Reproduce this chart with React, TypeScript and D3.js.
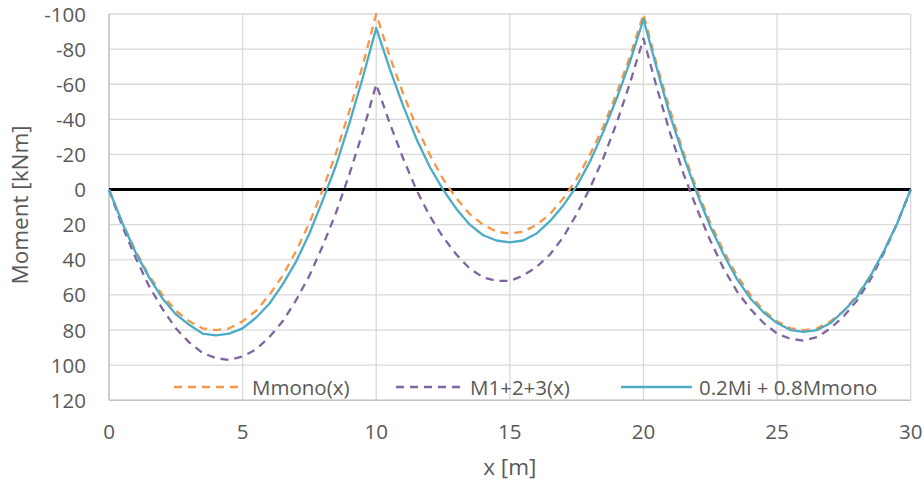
import * as d3 from 'd3'

// x positions along the beam [m]
const xValues = [
  0, 0.5, 1, 1.5, 2, 2.5, 3, 3.5, 4, 4.5, 5, 5.5, 6, 6.5, 7, 7.5, 8, 8.5, 9, 9.5,
  10, 10.5, 11, 11.5, 12, 12.5, 13, 13.5, 14, 14.5, 15, 15.5, 16, 16.5, 17, 17.5, 18, 18.5, 19, 19.5,
  20, 20.5, 21, 21.5, 22, 22.5, 23, 23.5, 24, 24.5, 25, 25.5, 26, 26.5, 27, 27.5, 28, 28.5, 29, 29.5, 30,
]

// Mmono(x)
const mMono = [
  0, 19, 35, 49, 60, 69, 75, 79, 80, 79, 75, 69, 60, 49, 35, 19, 0, -21, -45, -71,
  -100, -76, -55, -36, -20, -6, 5, 14, 20, 24, 25, 24, 20, 14, 5, -6, -20, -36, -55, -76,
  -100, -71, -45, -21, 0, 19, 35, 49, 60, 69, 75, 79, 80, 79, 75, 69, 60, 49, 35, 19, 0,
]

// M1+2+3(x)
const m123 = [
  0, 21, 39, 55, 68, 79, 87, 93, 96, 97, 95, 91, 84, 75, 63, 49, 32, 13, -9, -33,
  -60, -38, -18, 0, 15, 27, 37, 45, 50, 52, 52, 49, 44, 37, 27, 14, -1, -18, -38, -61,
  -86, -58, -32, -9, 11, 29, 45, 58, 68, 76, 82, 85, 86, 84, 79, 72, 63, 51, 36, 19, 0,
]

// 0.2Mi + 0.8Mmono
const mComb = [
  0, 19, 36, 50, 62, 71, 77, 82, 83, 82, 79, 73, 65, 54, 41, 25, 6, -14, -38, -64,
  -92, -69, -48, -29, -13, 0, 11, 20, 26, 29, 30, 29, 25, 18, 9, -2, -16, -33, -52, -73,
  -97, -69, -42, -19, 2, 21, 37, 51, 62, 70, 76, 80, 81, 80, 76, 69, 61, 49, 35, 19, 0,
]

const seriesNames = ['Mmono(x)', 'M1+2+3(x)', '0.2Mi + 0.8Mmono']
const seriesColors = ['#F79646', '#8064A2', '#4BACC6']
const seriesDash = ['8,6', '8,6', null]

const xTicks = [0, 5, 10, 15, 20, 25, 30]
const yTicks = [-100, -80, -60, -40, -20, 0, 20, 40, 60, 80, 100, 120]

const W = 924
const H = 488
const plot = { left: 109, right: 910.7, top: 14, bottom: 400.3 }
const font = '"Open Sans", "Noto Sans", sans-serif'

export default function App() {
  const x = d3.scaleLinear().domain([0, 30]).range([plot.left, plot.right])
  const y = d3.scaleLinear().domain([-100, 120]).range([plot.top, plot.bottom])

  const line = d3.line<number>()
    .x((_, i) => x(xValues[i]))
    .y(d => y(d))

  const series = [mMono, m123, mComb]

  // legend layout (pixel slots)
  const legendY = 387
  const legendItems = [
    { x1: 174, x2: 238, tx: 252 },
    { x1: 396, x2: 462, tx: 470 },
    { x1: 621, x2: 692, tx: 699 },
  ]

  return (
    <svg width={W} height={H} style={{ position: 'absolute', left: 0, top: 0, background: '#fff' }}>
      {/* horizontal gridlines */}
      {yTicks.map(t => (
        <line key={'gy' + t} x1={plot.left} x2={plot.right} y1={y(t)} y2={y(t)}
          stroke="#d9d9d9" strokeWidth={1.3} />
      ))}
      {/* vertical gridlines */}
      {xTicks.map(t => (
        <line key={'gx' + t} x1={x(t)} x2={x(t)} y1={plot.top} y2={plot.bottom}
          stroke="#d9d9d9" strokeWidth={1.3} />
      ))}
      {/* axis lines */}
      <line x1={plot.left} x2={plot.left} y1={plot.top} y2={plot.bottom} stroke="#c4c4c4" strokeWidth={1.5} />
      <line x1={plot.left} x2={plot.right} y1={plot.bottom} y2={plot.bottom} stroke="#c4c4c4" strokeWidth={1.5} />

      {/* zero line */}
      <line x1={x(0)} x2={x(30)} y1={y(0)} y2={y(0)} stroke="#000" strokeWidth={3} />

      {/* series */}
      {series.map((s, i) => (
        <path key={'s' + i} d={line(s) || ''} fill="none" stroke={seriesColors[i]}
          strokeWidth={2.3} strokeDasharray={seriesDash[i] || undefined}
          strokeLinejoin="round" />
      ))}

      {/* y tick labels */}
      {yTicks.map(t => (
        <text key={'ty' + t} x={86} y={y(t) + 7.5} textAnchor="end"
          fontFamily={font} fontSize={20.5} fill="#595959">{t}</text>
      ))}
      {/* x tick labels */}
      {xTicks.map(t => (
        <text key={'tx' + t} x={x(t)} y={439} textAnchor="middle"
          fontFamily={font} fontSize={20.5} fill="#595959">{t}</text>
      ))}

      {/* axis titles */}
      <text transform={`translate(28,205) rotate(-90)`} textAnchor="middle"
        fontFamily={font} fontSize={22.5} fill="#595959">Moment [kNm]</text>
      <text x={(plot.left + plot.right) / 2} y={475} textAnchor="middle"
        fontFamily={font} fontSize={22.5} fill="#595959">x [m]</text>

      {/* legend */}
      {legendItems.map((it, i) => (
        <g key={'lg' + i}>
          <line x1={it.x1} x2={it.x2} y1={legendY} y2={legendY} stroke={seriesColors[i]}
            strokeWidth={2.3} strokeDasharray={seriesDash[i] || undefined} />
          <text x={it.tx} y={legendY + 7.5} fontFamily={font} fontSize={20.5} fill="#595959">
            {seriesNames[i]}
          </text>
        </g>
      ))}
    </svg>
  )
}
